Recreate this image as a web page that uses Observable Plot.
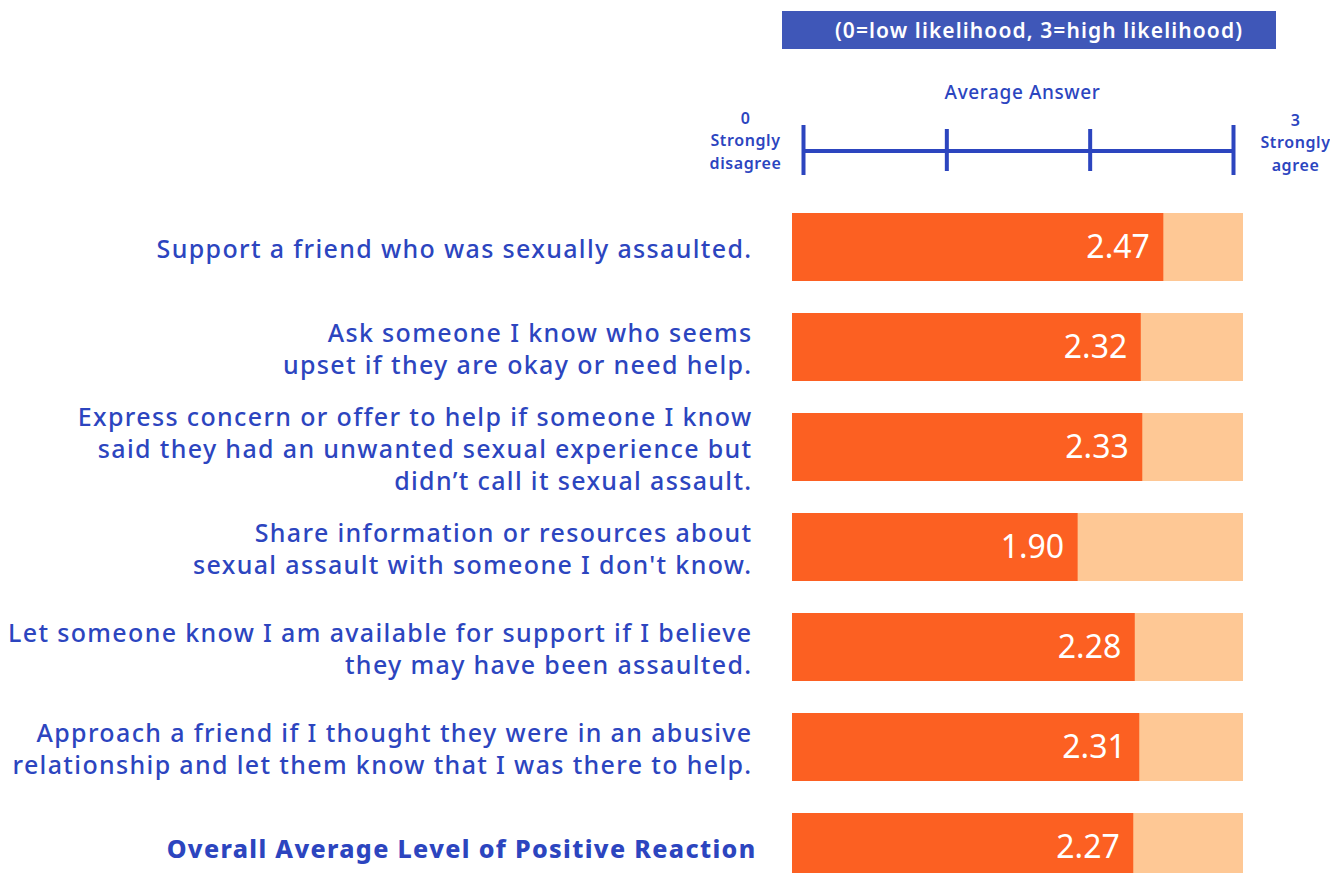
<!DOCTYPE html>
<html>
<head>
<meta charset="utf-8">
<script src="https://cdn.jsdelivr.net/npm/d3@7"></script>
<script src="https://cdn.jsdelivr.net/npm/@observablehq/plot@0.6"></script>
<style>
  html, body { margin: 0; padding: 0; background: #fff; overflow: hidden; width: 1330px; height: 873px; }
  #header { margin-left: 782px; margin-top: 11px; width: 494px; height: 38px; box-sizing: border-box; padding-left: 20px;
    background: #3F57B8; color: #fff;
    font-family: "Noto Sans", sans-serif; font-weight: 600; font-size: 21px; letter-spacing: 1.1px; line-height: 38px; text-align: center; }
  svg { display: block; }
</style>
</head>
<body>
<div id="header">(0=low likelihood, 3=high likelihood)</div>
<div id="scale"></div>
<div id="bars"></div>
<script>
const questions = [
  "Support a friend who was sexually assaulted.",
  "Ask someone I know who seems\nupset if they are okay or need help.",
  "Express concern or offer to help if someone I know\nsaid they had an unwanted sexual experience but\ndidn\u2019t call it sexual assault.",
  "Share information or resources about\nsexual assault with someone I don't know.",
  "Let someone know I am available for support if I believe\nthey may have been assaulted.",
  "Approach a friend if I thought they were in an abusive\nrelationship and let them know that I was there to help.",
  "Overall Average Level of Positive Reaction"
];
const values = [2.47, 2.32, 2.33, 1.90, 2.28, 2.31, 2.27];
const maxScore = 3;
const scaleTicks = [0, 1, 2, 3];
const scaleTitle = "Average Answer";
const lowLabel = "0\nStrongly\ndisagree";
const highLabel = "3\nStrongly\nagree";

const blue = "#2C45BF";
const orange = "#FC6022";
const light = "#FEC895";

const rows = questions.map((q, i) => ({question: q, value: values[i], max: maxScore, overall: i === questions.length - 1}));

// Scale graphic
const scalePlot = Plot.plot({
  width: 1330, height: 141,
  marginLeft: 803, marginRight: 97, marginTop: 62, marginBottom: 0,
  style: {fontFamily: "Noto Sans, sans-serif", background: "transparent"},
  x: {domain: [0, maxScore], axis: null},
  y: {domain: ["scale"], axis: null, padding: 0},
  marks: [
    Plot.ruleY(["scale"], {x1: 0, x2: maxScore, stroke: blue, strokeWidth: 4}),
    Plot.tickX(scaleTicks.filter(t => t === 0 || t === maxScore), {x: d => d, y: () => "scale", stroke: blue, strokeWidth: 4, insetTop: 14, insetBottom: 15}),
    Plot.tickX(scaleTicks.filter(t => t !== 0 && t !== maxScore), {x: d => d, y: () => "scale", stroke: blue, strokeWidth: 4, insetTop: 18, insetBottom: 19}),
    Plot.text([scaleTitle], {x: maxScore / 2, y: () => "scale", text: d => d, dy: -58, dx: 4, fill: blue, fontSize: 19, fontWeight: 500}),
    Plot.text([lowLabel], {x: 0, y: () => "scale", text: d => d, dx: -58, dy: -12, fill: blue, fontSize: 16, fontWeight: 600, lineHeight: 1.4}),
    Plot.text([highLabel], {x: maxScore, y: () => "scale", text: d => d, dx: 62, dy: -10, fill: blue, fontSize: 16, fontWeight: 600, lineHeight: 1.4})
  ]
});
d3.select(scalePlot).selectAll("g[aria-label='text']").style("letter-spacing", "0.6px");
document.getElementById("scale").appendChild(scalePlot);

// Bars
const barPlot = Plot.plot({
  width: 1330, height: 707,
  marginLeft: 792, marginRight: 87, marginTop: 7, marginBottom: 0,
  style: {fontFamily: "Noto Sans, sans-serif", background: "transparent"},
  x: {domain: [0, maxScore], axis: null},
  y: {domain: questions, axis: null, paddingInner: 0.32, paddingOuter: 0.16},
  marks: [
    Plot.barX(rows, {x1: 0, x2: "max", y: "question", fill: light}),
    Plot.barX(rows, {x1: 0, x2: "value", y: "question", fill: orange}),
    Plot.text(rows, {x: "value", y: "question", text: d => d.value.toFixed(2), textAnchor: "end", dx: -14, fill: "white", fontSize: 32, fontWeight: 400}),
    Plot.text(rows.filter(d => !d.overall), {x: 0, y: "question", text: "question", textAnchor: "end", dx: -40, fill: blue, fontSize: 25, fontWeight: 500, lineHeight: 1.28}),
    Plot.text(rows.filter(d => d.overall), {x: 0, y: "question", text: "question", textAnchor: "end", dx: -36, fill: blue, fontSize: 25, fontWeight: 800, lineHeight: 1.28})
  ]
});
d3.select(barPlot).selectAll("g[aria-label='text']").filter((d, i) => i > 0).style("letter-spacing", "1.35px");
document.getElementById("bars").appendChild(barPlot);
</script>
</body>
</html>
